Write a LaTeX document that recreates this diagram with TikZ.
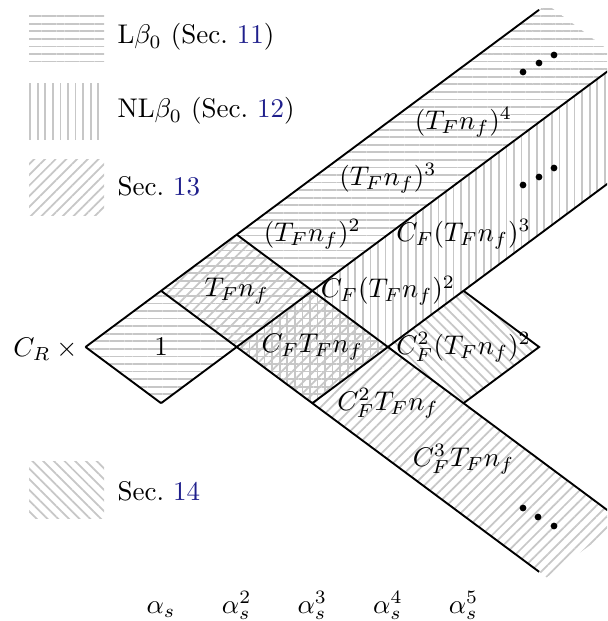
\documentclass[tikz,border=0pt]{standalone}
\usetikzlibrary{patterns.meta}
\definecolor{hatch}{gray}{0.78}
\definecolor{secblue}{rgb}{0.12,0.12,0.55}
\tikzset{
  hl/.style={pattern={Lines[angle=0,distance=2.8pt,line width=0.65pt]},pattern color=hatch},
  vl/.style={pattern={Lines[angle=90,distance=2.8pt,line width=0.65pt]},pattern color=hatch},
  nel/.style={pattern={Lines[angle=45,distance=2.8pt,line width=0.65pt]},pattern color=hatch},
  nwl/.style={pattern={Lines[angle=-45,distance=2.8pt,line width=0.65pt]},pattern color=hatch},
  bline/.style={line width=0.7pt, black, line join=miter},
  lbl/.style={inner sep=0pt},
  legtxt/.style={inner sep=0pt, anchor=base west},
}
\begin{document}
\begin{tikzpicture}[x=0.3704pt,y=-0.3704pt]
\useasboundingbox (0,0) rectangle (607,621);
\begin{scope}
\clip (0,0) rectangle (607,621);
% lattice points p<i><j>
\foreach \i in {0,...,7}{
  \foreach \j in {0,...,7}{
    \coordinate (p\i\j) at ({85.5+75.6*(\i+\j)},{347-56.2*(\i-\j)});
  }
}
% fractional points
\coordinate (q0) at ({85.5+75.6*(5.3+0)},{347-56.2*(5.3-0)});
\coordinate (q1) at ({85.5+75.6*(5.3+1)},{347-56.2*(5.3-1)});
\coordinate (r1) at ({85.5+75.6*(1+4.3)},{347-56.2*(1-4.3)});
\coordinate (r2) at ({85.5+75.6*(2+4.3)},{347-56.2*(2-4.3)});

% hatching
\fill[hl] (p00) -- (p10) -- (p11) -- (p01) -- cycle;
\fill[hl] (p10) -- (p20) -- (p21) -- (p11) -- cycle;
\fill[nel] (p10) -- (p20) -- (p21) -- (p11) -- cycle;
\fill[hl] (p20) -- (q0) -- (q1) -- (p21) -- cycle;
\foreach \k in {0,...,11}{
  \pgfmathsetmacro{\ia}{5.3+0.8*\k/12}
  \pgfmathsetmacro{\ib}{5.3+0.8*(\k+1)/12}
  \pgfmathsetmacro{\op}{1-(\k+0.5)/12}
  \fill[hl, fill opacity=\op]
    ({85.5+75.6*(\ia)},{347-56.2*(\ia)}) -- ({85.5+75.6*(\ib)},{347-56.2*(\ib)})
    -- ({85.5+75.6*(\ib+1)},{347-56.2*(\ib-1)}) -- ({85.5+75.6*(\ia+1)},{347-56.2*(\ia-1)}) -- cycle;
}
\fill[hl] (p11) -- (p21) -- (p22) -- (p12) -- cycle;
\fill[vl] (p11) -- (p21) -- (p22) -- (p12) -- cycle;
\fill[nel] (p11) -- (p21) -- (p22) -- (p12) -- cycle;
\fill[vl] (p21) -- (p71) -- (p72) -- (p22) -- cycle;
\fill[nwl] (p22) -- (p32) -- (p33) -- (p23) -- cycle;
\fill[nel] (p12) -- (p22) -- (r2) -- (r1) -- cycle;
\foreach \k in {0,...,11}{
  \pgfmathsetmacro{\ja}{4.3+0.8*\k/12}
  \pgfmathsetmacro{\jb}{4.3+0.8*(\k+1)/12}
  \pgfmathsetmacro{\op}{1-(\k+0.5)/12}
  \fill[nel, fill opacity=\op]
    ({85.5+75.6*(1+\ja)},{347-56.2*(1-\ja)}) -- ({85.5+75.6*(2+\ja)},{347-56.2*(2-\ja)})
    -- ({85.5+75.6*(2+\jb)},{347-56.2*(2-\jb)}) -- ({85.5+75.6*(1+\jb)},{347-56.2*(1-\jb)}) -- cycle;
}

% edges
\draw[bline] (p00) -- (p60);
\draw[bline] (p01) -- (p71);
\draw[bline] (p12) -- (p72);
\draw[bline] (p00) -- (p01);
\draw[bline] (p10) -- (p15);
\draw[bline] (p20) -- (p27);
\draw[bline] (p32) -- (p33) -- (p23);

% dots
\foreach \x/\y in {523/72,539/63,554/55, 523/185,539/177,554/168, 523/508,538/517,554/526}{
  \fill (\x,\y) circle (1.25pt);
}

% cell labels
\node[lbl] (c00) at ({85.5+75.6*1},347) {$1$};
\node[lbl] (c10) at ({85.5+75.6*2},{347-56.2*1}) {$T_F n_f$};
\node[lbl] (c20) at ({85.5+75.6*3},{347-56.2*2}) {$(T_F n_f)^2$};
\node[lbl] (c30) at ({85.5+75.6*4},{347-56.2*3}) {$(T_F n_f)^3$};
\node[lbl] (c40) at ({85.5+75.6*5},{347-56.2*4}) {$(T_F n_f)^4$};
\node[lbl] (c11) at ({85.5+75.6*3},347) {$C_F T_F n_f$};
\node[lbl] (c21) at ({85.5+75.6*4},{347-56.2*1}) {$C_F (T_F n_f)^2$};
\node[lbl] (c31) at ({85.5+75.6*5},{347-56.2*2}) {$C_F (T_F n_f)^3$};
\node[lbl] (c22) at ({85.5+75.6*5},347) {$C_F^2 (T_F n_f)^2$};
\node[lbl] (c12) at ({85.5+75.6*4},{347+56.2*1}) {$C_F^2 T_F n_f$};
\node[lbl] (c13) at ({85.5+75.6*5},{347+56.2*2}) {$C_F^3 T_F n_f$};

\node[inner sep=0pt, anchor=base east] (cr) at (84,356) {$C_R \times{}$};

% alpha labels
\node[inner sep=0pt, anchor=base] (al1) at (161.1,613) {$\alpha_s$};
\node[inner sep=0pt, anchor=base] (al2) at (236.7,613) {$\alpha_s^2$};
\node[inner sep=0pt, anchor=base] (al3) at (312.3,613) {$\alpha_s^3$};
\node[inner sep=0pt, anchor=base] (al4) at (387.9,613) {$\alpha_s^4$};
\node[inner sep=0pt, anchor=base] (al5) at (463.5,613) {$\alpha_s^5$};

% legend
\fill[hl] (29,12) rectangle (104,66);
\fill[vl] (29,84) rectangle (104,140);
\fill[nel] (29,160) rectangle (104,216);
\fill[nwl] (29,461) rectangle (104,518);
\node[legtxt] (l1) at (117,44) {L$\beta_0$ (Sec.~\textcolor{secblue}{11})};
\node[legtxt] (l2) at (117,118) {NL$\beta_0$ (Sec.~\textcolor{secblue}{12})};
\node[legtxt] (l3) at (117,196) {Sec.~\textcolor{secblue}{13}};
\node[legtxt] (l4) at (117,500) {Sec.~\textcolor{secblue}{14}};
\end{scope}
\end{tikzpicture}
\end{document}
